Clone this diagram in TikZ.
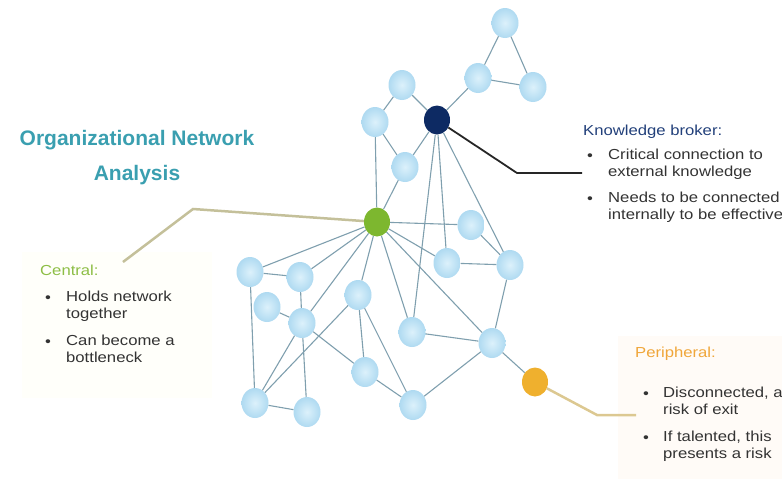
\documentclass[tikz,border=0pt]{standalone}
\usepackage{fontspec}
\setmainfont{Liberation Sans}
\newfontfamily\widefont[FakeStretch=1.15]{Liberation Sans}
\usepackage{tikz}
\usetikzlibrary{calc}
\usetikzlibrary{positioning}
\usetikzlibrary{arrows, shapes, shadows, positioning}
\definecolor{pblue}{HTML}{AFDAF1}
\definecolor{plight}{HTML}{DCF1FB}
\definecolor{pedge}{HTML}{7F9FAE}
\definecolor{cgreen}{HTML}{7DB72F}
\definecolor{cnavy}{HTML}{0D2A63}
\definecolor{cgold}{HTML}{EFB02E}
\definecolor{ttl}{HTML}{3A9FB0}
\definecolor{lgreen}{HTML}{8DBE45}
\definecolor{lnavy}{HTML}{22407A}
\definecolor{lorange}{HTML}{F0A63A}
\definecolor{txt}{HTML}{333333}
\definecolor{khaki}{HTML}{C4C09A}
\definecolor{sand}{HTML}{DCC891}

\begin{document}
\begin{tikzpicture}[x=1pt, y=-1pt]
 \tikzstyle{pnode}=[ellipse, minimum width=27pt, minimum height=30pt, inner sep=0pt, shading=radial, inner color=plight, outer color=pblue]
 \tikzstyle{knode}=[ellipse, minimum width=26pt, minimum height=29pt, inner sep=0pt]
 \tikzstyle{link}=[draw, pedge, line width=1.1pt]
 \tikzstyle{body}=[anchor=north west, inner sep=0pt, align=left, text=txt, font=\widefont\fontsize{14.5}{16.5}\selectfont]
 \tikzstyle{dot}=[anchor=base west, inner sep=0pt, text=txt, font=\widefont\fontsize{14.5}{16.5}\selectfont]
 \tikzstyle{head}=[anchor=base west, inner sep=0pt, font=\widefont\fontsize{14.5}{16.5}\selectfont]

 \useasboundingbox (0,0) rectangle (782,479);
 \fill[color=green!2!yellow!2] (22,252) rectangle (212,398);
 \fill[color=orange!3] (618,336) rectangle (782,479);

 % title
 \draw (137,158) node[align=center, text=ttl, font=\bfseries\fontsize{21}{35}\selectfont] (title) {Organizational Network\\Analysis};

 % network nodes
 \draw (505,23) node[pnode] (t1) {};
 \draw (478,78) node[pnode] (t2) {};
 \draw (533,87) node[pnode] (t3) {};
 \draw (402,85) node[pnode] (u1) {};
 \draw (375,122) node[pnode] (u2) {};
 \draw (405,167) node[pnode] (u3) {};
 \draw (471,225) node[pnode] (r1) {};
 \draw (447,263) node[pnode] (r2) {};
 \draw (510,265) node[pnode] (r3) {};
 \draw (250,272) node[pnode] (a) {};
 \draw (300,277) node[pnode] (b) {};
 \draw (267,307) node[pnode] (p) {};
 \draw (302,323) node[pnode] (d) {};
 \draw (358,295) node[pnode] (c) {};
 \draw (412,332) node[pnode] (f) {};
 \draw (492,343) node[pnode] (g) {};
 \draw (365,372) node[pnode] (i) {};
 \draw (255,403) node[pnode] (e) {};
 \draw (307,412) node[pnode] (h) {};
 \draw (413,405) node[pnode] (j) {};
 \draw (437,120) node[knode, fill=cnavy] (broker) {};
 \draw (377,222) node[knode, fill=cgreen] (central) {};
 \draw (535,382) node[knode, fill=cgold] (periph) {};

 % links
 \path [link] (t1) -- (t2);
 \path [link] (t1) -- (t3);
 \path [link] (t2) -- (t3);
 \path [link] (t2) -- (broker);
 \path [link] (u1) -- (broker);
 \path [link] (u1) -- (u2);
 \path [link] (u2) -- (u3);
 \path [link] (u3) -- (broker);
 \path [link] (u2) -- (central);
 \path [link] (u3) -- (central);
 \path [link] (broker) -- (f);
 \path [link] (broker) -- (r2);
 \path [link] (broker) -- (r3);
 \path [link] (central) -- (r1);
 \path [link] (central) -- (a);
 \path [link] (central) -- (b);
 \path [link] (central) -- (d);
 \path [link] (central) -- (c);
 \path [link] (central) -- (f);
 \path [link] (central) -- (g);
 \path [link] (central) -- (r2);
 \path [link] (r1) -- (r3);
 \path [link] (r2) -- (r3);
 \path [link] (r3) -- (g);
 \path [link] (f) -- (g);
 \path [link] (g) -- (j);
 \path [link] (g) -- (periph);
 \path [link] (a) -- (b);
 \path [link] (b) -- (d);
 \path [link] (p) -- (d);
 \path [link] (a) -- (e);
 \path [link] (d) -- (e);
 \path [link] (d) -- (h);
 \path [link] (e) -- (h);
 \path [link] (d) -- (i);
 \path [link] (c) -- (i);
 \path [link] (c) -- (j);
 \path [link] (i) -- (j);
 \path [link] (e) -- (c);

 % callouts
 \coordinate (cbend) at (193,209);
 \coordinate (cend) at (123,262);
 \coordinate (kbend) at (517,173);
 \coordinate (kend) at (582,173);
 \coordinate (pbend) at (597,415);
 \coordinate (pend) at (636,415);
 \draw[khaki, line width=2.5pt] (central) -- (cbend) -- (cend);
 \draw[black!85, line width=1.8pt] (broker) -- (kbend) -- (kend);
 \draw[sand, line width=2.5pt] (periph) -- (pbend) -- (pend);

 % central
 \draw (40,275) node[head, text=lgreen] (cname) {Central:};
 \draw (45,302) node[dot] (cdot1) {\textbullet};
 \draw (66,291) node[body] (ctext1) {Holds network\\together};
 \draw (45,346) node[dot] (cdot2) {\textbullet};
 \draw (66,335) node[body] (ctext2) {Can become a\\bottleneck};

 % knowledge broker
 \draw (583,135) node[head, text=lnavy] (kname) {Knowledge broker:};
 \draw (587,160) node[dot] (kdot1) {\textbullet};
 \draw (608,149) node[body] (ktext1) {Critical connection to\\external knowledge};
 \draw (587,203) node[dot] (kdot2) {\textbullet};
 \draw (608,192) node[body] (ktext2) {Needs to be connected\\internally to be effective};

 % peripheral
 \draw (635,357) node[head, text=lorange] (pname) {Peripheral:};
 \draw (643,398) node[dot] (pdot1) {\textbullet};
 \draw (663,387) node[body] (ptext1) {Disconnected, at\\risk of exit};
 \draw (643,442) node[dot] (pdot2) {\textbullet};
 \draw (663,431) node[body] (ptext2) {If talented, this\\presents a risk};

\end{tikzpicture}
\end{document}
